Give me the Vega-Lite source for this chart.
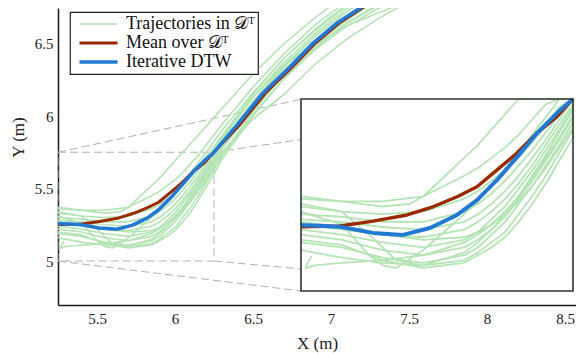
{
  "$schema": "https://vega.github.io/schema/vega-lite/v6.json",
  "width": 518,
  "height": 297,
  "autosize": {"type": "none"},
  "padding": {"left": 58, "top": 8, "right": 0, "bottom": 49},
  "background": "white",
  "config": {
    "view": {"stroke": null},
    "font": "Liberation Serif",
    "legend": {
      "orient": "none",
      "legendX": 12,
      "legendY": 4,
      "fillColor": "white",
      "strokeColor": "#222222",
      "strokeWidth": 1.2,
      "padding": 3,
      "rowPadding": 1,
      "symbolType": "M-2,0H2",
      "symbolSize": 361,
      "symbolOffset": 16.5,
      "labelOffset": 18.5,
      "labelFont": "Liberation Serif",
      "labelFontSize": 18,
      "labelColor": "#111111",
      "labelLimit": 400
    }
  },
  "datasets": {
    "zoom": [{"x": 5.25, "x2": 6.25, "y": 5.0, "y2": 5.75}],
    "conn": [
      {"x": 5.25, "y": 5.75, "x2": 6.808, "y2": 6.115},
      {"x": 6.25, "y": 5.75, "x2": 6.808, "y2": 5.838},
      {"x": 5.25, "y": 5.0, "x2": 6.808, "y2": 4.793},
      {"x": 6.25, "y": 5.0, "x2": 6.808, "y2": 4.945}
    ],
    "mean": [
      {"x": 5.25, "y": 5.251}, {"x": 5.393, "y": 5.254}, {"x": 5.515, "y": 5.273}, {"x": 5.64, "y": 5.297},
      {"x": 5.735, "y": 5.329}, {"x": 5.824, "y": 5.368}, {"x": 5.897, "y": 5.407}, {"x": 5.971, "y": 5.473},
      {"x": 6.044, "y": 5.539}, {"x": 6.118, "y": 5.617}, {"x": 6.191, "y": 5.681}, {"x": 6.246, "y": 5.746},
      {"x": 6.415, "y": 5.94}, {"x": 6.58, "y": 6.159}, {"x": 6.752, "y": 6.338}, {"x": 6.9, "y": 6.503},
      {"x": 7.053, "y": 6.641}, {"x": 7.2, "y": 6.745}, {"x": 7.31, "y": 6.82}
    ],
    "dtw": [
      {"x": 5.25, "y": 5.258}, {"x": 5.393, "y": 5.251}, {"x": 5.515, "y": 5.227}, {"x": 5.625, "y": 5.219},
      {"x": 5.724, "y": 5.246}, {"x": 5.824, "y": 5.297}, {"x": 5.897, "y": 5.355}, {"x": 5.971, "y": 5.434},
      {"x": 6.044, "y": 5.523}, {"x": 6.118, "y": 5.617}, {"x": 6.191, "y": 5.695}, {"x": 6.246, "y": 5.746},
      {"x": 6.4, "y": 5.94}, {"x": 6.564, "y": 6.159}, {"x": 6.737, "y": 6.338}, {"x": 6.885, "y": 6.503},
      {"x": 7.038, "y": 6.641}, {"x": 7.186, "y": 6.745}, {"x": 7.3, "y": 6.82}
    ],
    "green": [
      {"id": "L1", "x": 5.25, "y": 5.36}, {"id": "L1", "x": 5.4, "y": 5.35}, {"id": "L1", "x": 5.55, "y": 5.35}, {"id": "L1", "x": 5.7, "y": 5.37}, {"id": "L1", "x": 5.85, "y": 5.52}, {"id": "L1", "x": 5.9, "y": 5.57}, {"id": "L1", "x": 5.95, "y": 5.63}, {"id": "L1", "x": 6.0, "y": 5.69}, {"id": "L1", "x": 6.05, "y": 5.75}, {"id": "L1", "x": 6.1, "y": 5.81}, {"id": "L1", "x": 6.15, "y": 5.87}, {"id": "L1", "x": 6.2, "y": 5.93}, {"id": "L1", "x": 6.3, "y": 6.05}, {"id": "L1", "x": 6.5, "y": 6.29}, {"id": "L1", "x": 6.7, "y": 6.5}, {"id": "L1", "x": 6.9, "y": 6.68}, {"id": "L1", "x": 7.1, "y": 6.84},
      {"id": "L2", "x": 5.25, "y": 5.37}, {"id": "L2", "x": 5.4, "y": 5.35}, {"id": "L2", "x": 5.55, "y": 5.33}, {"id": "L2", "x": 5.65, "y": 5.34}, {"id": "L2", "x": 5.7, "y": 5.37}, {"id": "L2", "x": 5.85, "y": 5.45}, {"id": "L2", "x": 5.9, "y": 5.48}, {"id": "L2", "x": 5.95, "y": 5.52}, {"id": "L2", "x": 6.0, "y": 5.56}, {"id": "L2", "x": 6.05, "y": 5.61}, {"id": "L2", "x": 6.1, "y": 5.67}, {"id": "L2", "x": 6.15, "y": 5.73}, {"id": "L2", "x": 6.2, "y": 5.8}, {"id": "L2", "x": 6.3, "y": 5.94}, {"id": "L2", "x": 6.5, "y": 6.2}, {"id": "L2", "x": 6.7, "y": 6.43}, {"id": "L2", "x": 6.9, "y": 6.63}, {"id": "L2", "x": 7.1, "y": 6.79},
      {"id": "L3", "x": 5.25, "y": 5.33}, {"id": "L3", "x": 5.4, "y": 5.31}, {"id": "L3", "x": 5.55, "y": 5.3}, {"id": "L3", "x": 5.7, "y": 5.31}, {"id": "L3", "x": 5.85, "y": 5.36}, {"id": "L3", "x": 5.9, "y": 5.39}, {"id": "L3", "x": 5.95, "y": 5.43}, {"id": "L3", "x": 6.0, "y": 5.47}, {"id": "L3", "x": 6.05, "y": 5.52}, {"id": "L3", "x": 6.1, "y": 5.58}, {"id": "L3", "x": 6.15, "y": 5.65}, {"id": "L3", "x": 6.2, "y": 5.72}, {"id": "L3", "x": 6.25, "y": 5.79}, {"id": "L3", "x": 6.3, "y": 5.86}, {"id": "L3", "x": 6.5, "y": 6.15}, {"id": "L3", "x": 6.7, "y": 6.4}, {"id": "L3", "x": 6.9, "y": 6.6}, {"id": "L3", "x": 7.1, "y": 6.77},
      {"id": "L4", "x": 5.25, "y": 5.3}, {"id": "L4", "x": 5.4, "y": 5.29}, {"id": "L4", "x": 5.55, "y": 5.27}, {"id": "L4", "x": 5.7, "y": 5.27}, {"id": "L4", "x": 5.85, "y": 5.31}, {"id": "L4", "x": 5.9, "y": 5.34}, {"id": "L4", "x": 5.95, "y": 5.38}, {"id": "L4", "x": 6.0, "y": 5.43}, {"id": "L4", "x": 6.05, "y": 5.49}, {"id": "L4", "x": 6.1, "y": 5.55}, {"id": "L4", "x": 6.15, "y": 5.62}, {"id": "L4", "x": 6.2, "y": 5.69}, {"id": "L4", "x": 6.25, "y": 5.77}, {"id": "L4", "x": 6.3, "y": 5.85}, {"id": "L4", "x": 6.5, "y": 6.13}, {"id": "L4", "x": 6.7, "y": 6.35}, {"id": "L4", "x": 6.9, "y": 6.5}, {"id": "L4", "x": 7.1, "y": 6.62}, {"id": "L4", "x": 7.3, "y": 6.71}, {"id": "L4", "x": 7.5, "y": 6.79},
      {"id": "L5", "x": 5.25, "y": 5.28}, {"id": "L5", "x": 5.4, "y": 5.27}, {"id": "L5", "x": 5.55, "y": 5.25}, {"id": "L5", "x": 5.7, "y": 5.24}, {"id": "L5", "x": 5.85, "y": 5.27}, {"id": "L5", "x": 5.9, "y": 5.3}, {"id": "L5", "x": 5.95, "y": 5.34}, {"id": "L5", "x": 6.0, "y": 5.39}, {"id": "L5", "x": 6.05, "y": 5.45}, {"id": "L5", "x": 6.1, "y": 5.52}, {"id": "L5", "x": 6.15, "y": 5.59}, {"id": "L5", "x": 6.2, "y": 5.67}, {"id": "L5", "x": 6.25, "y": 5.75}, {"id": "L5", "x": 6.3, "y": 5.84}, {"id": "L5", "x": 6.5, "y": 6.13}, {"id": "L5", "x": 6.7, "y": 6.37}, {"id": "L5", "x": 6.9, "y": 6.57}, {"id": "L5", "x": 7.1, "y": 6.74}, {"id": "L5", "x": 7.3, "y": 6.88},
      {"id": "L6", "x": 5.25, "y": 5.26}, {"id": "L6", "x": 5.4, "y": 5.24}, {"id": "L6", "x": 5.55, "y": 5.22}, {"id": "L6", "x": 5.7, "y": 5.21}, {"id": "L6", "x": 5.85, "y": 5.24}, {"id": "L6", "x": 5.9, "y": 5.27}, {"id": "L6", "x": 5.95, "y": 5.31}, {"id": "L6", "x": 6.0, "y": 5.36}, {"id": "L6", "x": 6.05, "y": 5.42}, {"id": "L6", "x": 6.1, "y": 5.49}, {"id": "L6", "x": 6.15, "y": 5.57}, {"id": "L6", "x": 6.2, "y": 5.65}, {"id": "L6", "x": 6.25, "y": 5.73}, {"id": "L6", "x": 6.3, "y": 5.82}, {"id": "L6", "x": 6.5, "y": 6.1}, {"id": "L6", "x": 6.7, "y": 6.35}, {"id": "L6", "x": 6.9, "y": 6.55}, {"id": "L6", "x": 7.1, "y": 6.72}, {"id": "L6", "x": 7.3, "y": 6.86},
      {"id": "L7", "x": 5.25, "y": 5.24}, {"id": "L7", "x": 5.4, "y": 5.22}, {"id": "L7", "x": 5.55, "y": 5.19}, {"id": "L7", "x": 5.7, "y": 5.17}, {"id": "L7", "x": 5.85, "y": 5.2}, {"id": "L7", "x": 5.9, "y": 5.23}, {"id": "L7", "x": 5.95, "y": 5.28}, {"id": "L7", "x": 6.0, "y": 5.33}, {"id": "L7", "x": 6.05, "y": 5.4}, {"id": "L7", "x": 6.1, "y": 5.47}, {"id": "L7", "x": 6.15, "y": 5.55}, {"id": "L7", "x": 6.2, "y": 5.63}, {"id": "L7", "x": 6.25, "y": 5.72}, {"id": "L7", "x": 6.3, "y": 5.81}, {"id": "L7", "x": 6.5, "y": 6.08}, {"id": "L7", "x": 6.7, "y": 6.32}, {"id": "L7", "x": 6.9, "y": 6.52}, {"id": "L7", "x": 7.1, "y": 6.68}, {"id": "L7", "x": 7.3, "y": 6.8},
      {"id": "L8", "x": 5.25, "y": 5.22}, {"id": "L8", "x": 5.4, "y": 5.2}, {"id": "L8", "x": 5.55, "y": 5.16}, {"id": "L8", "x": 5.7, "y": 5.14}, {"id": "L8", "x": 5.85, "y": 5.17}, {"id": "L8", "x": 5.9, "y": 5.2}, {"id": "L8", "x": 5.95, "y": 5.24}, {"id": "L8", "x": 6.0, "y": 5.29}, {"id": "L8", "x": 6.05, "y": 5.36}, {"id": "L8", "x": 6.1, "y": 5.43}, {"id": "L8", "x": 6.15, "y": 5.51}, {"id": "L8", "x": 6.2, "y": 5.59}, {"id": "L8", "x": 6.25, "y": 5.68}, {"id": "L8", "x": 6.3, "y": 5.77}, {"id": "L8", "x": 6.5, "y": 6.05}, {"id": "L8", "x": 6.7, "y": 6.29}, {"id": "L8", "x": 6.9, "y": 6.48}, {"id": "L8", "x": 7.1, "y": 6.64}, {"id": "L8", "x": 7.3, "y": 6.76}, {"id": "L8", "x": 7.5, "y": 6.86},
      {"id": "L9", "x": 5.25, "y": 5.19}, {"id": "L9", "x": 5.4, "y": 5.17}, {"id": "L9", "x": 5.55, "y": 5.13}, {"id": "L9", "x": 5.7, "y": 5.11}, {"id": "L9", "x": 5.85, "y": 5.14}, {"id": "L9", "x": 5.9, "y": 5.17}, {"id": "L9", "x": 5.95, "y": 5.22}, {"id": "L9", "x": 6.0, "y": 5.27}, {"id": "L9", "x": 6.05, "y": 5.34}, {"id": "L9", "x": 6.1, "y": 5.41}, {"id": "L9", "x": 6.15, "y": 5.49}, {"id": "L9", "x": 6.2, "y": 5.57}, {"id": "L9", "x": 6.25, "y": 5.66}, {"id": "L9", "x": 6.3, "y": 5.75}, {"id": "L9", "x": 6.5, "y": 5.98}, {"id": "L9", "x": 6.7, "y": 6.15}, {"id": "L9", "x": 6.9, "y": 6.36}, {"id": "L9", "x": 7.1, "y": 6.53}, {"id": "L9", "x": 7.3, "y": 6.67}, {"id": "L9", "x": 7.5, "y": 6.79},
      {"id": "L10", "x": 5.25, "y": 5.16}, {"id": "L10", "x": 5.4, "y": 5.13}, {"id": "L10", "x": 5.55, "y": 5.11}, {"id": "L10", "x": 5.7, "y": 5.1}, {"id": "L10", "x": 5.85, "y": 5.12}, {"id": "L10", "x": 5.9, "y": 5.15}, {"id": "L10", "x": 5.95, "y": 5.19}, {"id": "L10", "x": 6.0, "y": 5.23}, {"id": "L10", "x": 6.05, "y": 5.3}, {"id": "L10", "x": 6.1, "y": 5.37}, {"id": "L10", "x": 6.15, "y": 5.45}, {"id": "L10", "x": 6.2, "y": 5.54}, {"id": "L10", "x": 6.25, "y": 5.63}, {"id": "L10", "x": 6.3, "y": 5.73}, {"id": "L10", "x": 6.5, "y": 6.03}, {"id": "L10", "x": 6.7, "y": 6.29}, {"id": "L10", "x": 6.9, "y": 6.5}, {"id": "L10", "x": 7.1, "y": 6.67}, {"id": "L10", "x": 7.3, "y": 6.8},
      {"id": "L11", "x": 5.25, "y": 5.31}, {"id": "L11", "x": 5.4, "y": 5.26}, {"id": "L11", "x": 5.5, "y": 5.14}, {"id": "L11", "x": 5.55, "y": 5.1}, {"id": "L11", "x": 5.6, "y": 5.09}, {"id": "L11", "x": 5.7, "y": 5.16}, {"id": "L11", "x": 5.85, "y": 5.3}, {"id": "L11", "x": 5.9, "y": 5.35}, {"id": "L11", "x": 5.95, "y": 5.41}, {"id": "L11", "x": 6.0, "y": 5.47}, {"id": "L11", "x": 6.05, "y": 5.54}, {"id": "L11", "x": 6.1, "y": 5.61}, {"id": "L11", "x": 6.15, "y": 5.68}, {"id": "L11", "x": 6.2, "y": 5.75}, {"id": "L11", "x": 6.3, "y": 5.9}, {"id": "L11", "x": 6.5, "y": 6.16}, {"id": "L11", "x": 6.7, "y": 6.4}, {"id": "L11", "x": 6.9, "y": 6.59}, {"id": "L11", "x": 7.1, "y": 6.76},
      {"id": "L12", "x": 5.289, "y": 5.137}, {"id": "L12", "x": 5.272, "y": 5.105}, {"id": "L12", "x": 5.266, "y": 5.088}, {"id": "L12", "x": 5.3, "y": 5.1}, {"id": "L12", "x": 5.4, "y": 5.11}, {"id": "L12", "x": 5.55, "y": 5.12}, {"id": "L12", "x": 5.7, "y": 5.14}, {"id": "L12", "x": 5.85, "y": 5.19}, {"id": "L12", "x": 5.9, "y": 5.22}, {"id": "L12", "x": 5.95, "y": 5.26}, {"id": "L12", "x": 6.0, "y": 5.31}, {"id": "L12", "x": 6.05, "y": 5.37}, {"id": "L12", "x": 6.1, "y": 5.44}, {"id": "L12", "x": 6.15, "y": 5.52}, {"id": "L12", "x": 6.2, "y": 5.6}, {"id": "L12", "x": 6.25, "y": 5.69}, {"id": "L12", "x": 6.3, "y": 5.78}, {"id": "L12", "x": 6.5, "y": 6.06}, {"id": "L12", "x": 6.7, "y": 6.3}, {"id": "L12", "x": 6.9, "y": 6.5}, {"id": "L12", "x": 7.1, "y": 6.66}, {"id": "L12", "x": 7.3, "y": 6.8},
      {"id": "L13", "x": 5.25, "y": 5.2}, {"id": "L13", "x": 5.4, "y": 5.18}, {"id": "L13", "x": 5.55, "y": 5.12}, {"id": "L13", "x": 5.7, "y": 5.09}, {"id": "L13", "x": 5.85, "y": 5.11}, {"id": "L13", "x": 5.9, "y": 5.14}, {"id": "L13", "x": 5.95, "y": 5.17}, {"id": "L13", "x": 6.0, "y": 5.21}, {"id": "L13", "x": 6.05, "y": 5.27}, {"id": "L13", "x": 6.1, "y": 5.34}, {"id": "L13", "x": 6.15, "y": 5.42}, {"id": "L13", "x": 6.2, "y": 5.51}, {"id": "L13", "x": 6.25, "y": 5.6}, {"id": "L13", "x": 6.3, "y": 5.7}, {"id": "L13", "x": 6.5, "y": 6.0}, {"id": "L13", "x": 6.7, "y": 6.26}, {"id": "L13", "x": 6.9, "y": 6.47}, {"id": "L13", "x": 7.1, "y": 6.64}, {"id": "L13", "x": 7.3, "y": 6.77},
      {"id": "L14", "x": 5.25, "y": 5.27}, {"id": "L14", "x": 5.4, "y": 5.25}, {"id": "L14", "x": 5.55, "y": 5.22}, {"id": "L14", "x": 5.7, "y": 5.2}, {"id": "L14", "x": 5.85, "y": 5.21}, {"id": "L14", "x": 5.9, "y": 5.23}, {"id": "L14", "x": 5.95, "y": 5.26}, {"id": "L14", "x": 6.0, "y": 5.3}, {"id": "L14", "x": 6.05, "y": 5.35}, {"id": "L14", "x": 6.1, "y": 5.41}, {"id": "L14", "x": 6.15, "y": 5.48}, {"id": "L14", "x": 6.2, "y": 5.56}, {"id": "L14", "x": 6.25, "y": 5.64}, {"id": "L14", "x": 6.3, "y": 5.72}, {"id": "L14", "x": 6.5, "y": 6.01}, {"id": "L14", "x": 6.7, "y": 6.26}, {"id": "L14", "x": 6.9, "y": 6.46}, {"id": "L14", "x": 7.1, "y": 6.62}, {"id": "L14", "x": 7.3, "y": 6.74}, {"id": "L14", "x": 7.5, "y": 6.84},
      {"id": "L15", "x": 5.25, "y": 5.34}, {"id": "L15", "x": 5.4, "y": 5.31}, {"id": "L15", "x": 5.5, "y": 5.22}, {"id": "L15", "x": 5.6, "y": 5.12}, {"id": "L15", "x": 5.7, "y": 5.1}, {"id": "L15", "x": 5.85, "y": 5.15}, {"id": "L15", "x": 5.9, "y": 5.19}, {"id": "L15", "x": 5.95, "y": 5.24}, {"id": "L15", "x": 6.0, "y": 5.3}, {"id": "L15", "x": 6.05, "y": 5.37}, {"id": "L15", "x": 6.1, "y": 5.45}, {"id": "L15", "x": 6.15, "y": 5.53}, {"id": "L15", "x": 6.2, "y": 5.62}, {"id": "L15", "x": 6.25, "y": 5.71}, {"id": "L15", "x": 6.3, "y": 5.8}, {"id": "L15", "x": 6.5, "y": 6.09}, {"id": "L15", "x": 6.7, "y": 6.34}, {"id": "L15", "x": 6.9, "y": 6.55}, {"id": "L15", "x": 7.1, "y": 6.72}, {"id": "L15", "x": 7.3, "y": 6.85}
    ]
  },
  "layer": [
    {
      "encoding": {
        "x": {
          "field": "x", "type": "quantitative", "title": "X (m)",
          "scale": {"domain": [5.25, 8.5705], "nice": false, "zero": false},
          "axis": {
            "values": [5.5, 6, 6.5, 7, 7.5, 8, 8.5], "format": "~g", "ticks": false, "grid": false,
            "domainColor": "#1a1a1a", "domainWidth": 1.5,
            "labelFont": "Liberation Serif", "labelFontSize": 15, "labelColor": "#222222", "labelPadding": 6,
            "titleFont": "Liberation Serif", "titleFontSize": 17, "titleFontWeight": "normal", "titleColor": "#222222",
            "titleBaseline": "alphabetic", "titleY": 43
          }
        },
        "y": {
          "field": "y", "type": "quantitative", "title": "Y (m)",
          "scale": {"domain": [4.6966, 6.7448], "nice": false, "zero": false},
          "axis": {
            "values": [5, 5.5, 6, 6.5], "format": "~g", "ticks": false, "grid": false,
            "domainColor": "#1a1a1a", "domainWidth": 1.5,
            "labelFont": "Liberation Serif", "labelFontSize": 15, "labelColor": "#222222", "labelPadding": 5,
            "titleFont": "Liberation Serif", "titleFontSize": 17, "titleFontWeight": "normal", "titleColor": "#222222",
            "titleBaseline": "alphabetic", "titleAngle": -90, "titleX": -35, "titleY": 129
          }
        }
      },
      "layer": [
        {
          "data": {"name": "zoom"},
          "mark": {"type": "rect", "filled": false, "stroke": "#b0b0b0", "strokeWidth": 1, "strokeDash": [8, 4]},
          "encoding": {"x2": {"field": "x2"}, "y2": {"field": "y2"}}
        },
        {
          "data": {"name": "conn"},
          "mark": {"type": "rule", "stroke": "#b0b0b0", "strokeWidth": 1, "strokeDash": [8, 4]},
          "encoding": {"x2": {"field": "x2"}, "y2": {"field": "y2"}}
        },
        {
          "data": {"name": "green"},
          "mark": {"type": "line", "strokeWidth": 1.6, "clip": true, "strokeJoin": "round"},
          "encoding": {
            "detail": {"field": "id"},
            "order": {"value": null},
            "color": {
              "datum": "Trajectories in 𝒟ᵀ",
              "scale": {"domain": ["Trajectories in 𝒟ᵀ", "Mean over 𝒟ᵀ", "Iterative DTW"], "range": ["#b4e4b4", "#992a00", "#2179d4"]},
              "legend": {
                "title": null,
                "encode": {"symbols": {"update": {"strokeWidth": {"signal": "datum.value === 'Iterative DTW' ? 3.5 : (datum.value === 'Mean over 𝒟ᵀ' ? 3 : 1.6)"}}}}
              }
            }
          }
        },
        {
          "data": {"name": "mean"},
          "mark": {"type": "line", "strokeWidth": 3, "clip": true, "strokeJoin": "round"},
          "encoding": {"order": {"value": null}, "color": {"datum": "Mean over 𝒟ᵀ"}}
        },
        {
          "data": {"name": "dtw"},
          "mark": {"type": "line", "strokeWidth": 3.5, "clip": true, "strokeJoin": "round"},
          "encoding": {"order": {"value": null}, "color": {"datum": "Iterative DTW"}}
        }
      ]
    },
    {
      "encoding": {
        "x": {"field": "x", "type": "quantitative", "axis": null, "scale": {"domain": [5.25, 6.25], "range": [243, 515], "clamp": true, "nice": false, "zero": false}},
        "y": {"field": "y", "type": "quantitative", "axis": null, "scale": {"domain": [5.0, 5.75], "range": [283, 91], "clamp": true, "nice": false, "zero": false}}
      },
      "layer": [
        {
          "data": {"name": "zoom"},
          "mark": {"type": "rect", "fill": "white", "strokeWidth": 0},
          "encoding": {"x2": {"field": "x2"}, "y2": {"field": "y2"}}
        },
        {
          "data": {"name": "green"},
          "mark": {"type": "line", "stroke": "#b4e4b4", "strokeWidth": 1.8, "strokeJoin": "round"},
          "encoding": {"detail": {"field": "id"}, "order": {"value": null}}
        },
        {
          "data": {"name": "mean"},
          "mark": {"type": "line", "stroke": "#992a00", "strokeWidth": 3.4, "strokeJoin": "round"},
          "encoding": {"order": {"value": null}}
        },
        {
          "data": {"name": "dtw"},
          "mark": {"type": "line", "stroke": "#2179d4", "strokeWidth": 4, "strokeJoin": "round"},
          "encoding": {"order": {"value": null}}
        },
        {
          "data": {"name": "zoom"},
          "mark": {"type": "rect", "filled": false, "stroke": "#333333", "strokeWidth": 1.6},
          "encoding": {"x2": {"field": "x2"}, "y2": {"field": "y2"}}
        }
      ]
    }
  ],
  "resolve": {"scale": {"x": "independent", "y": "independent"}}
}
